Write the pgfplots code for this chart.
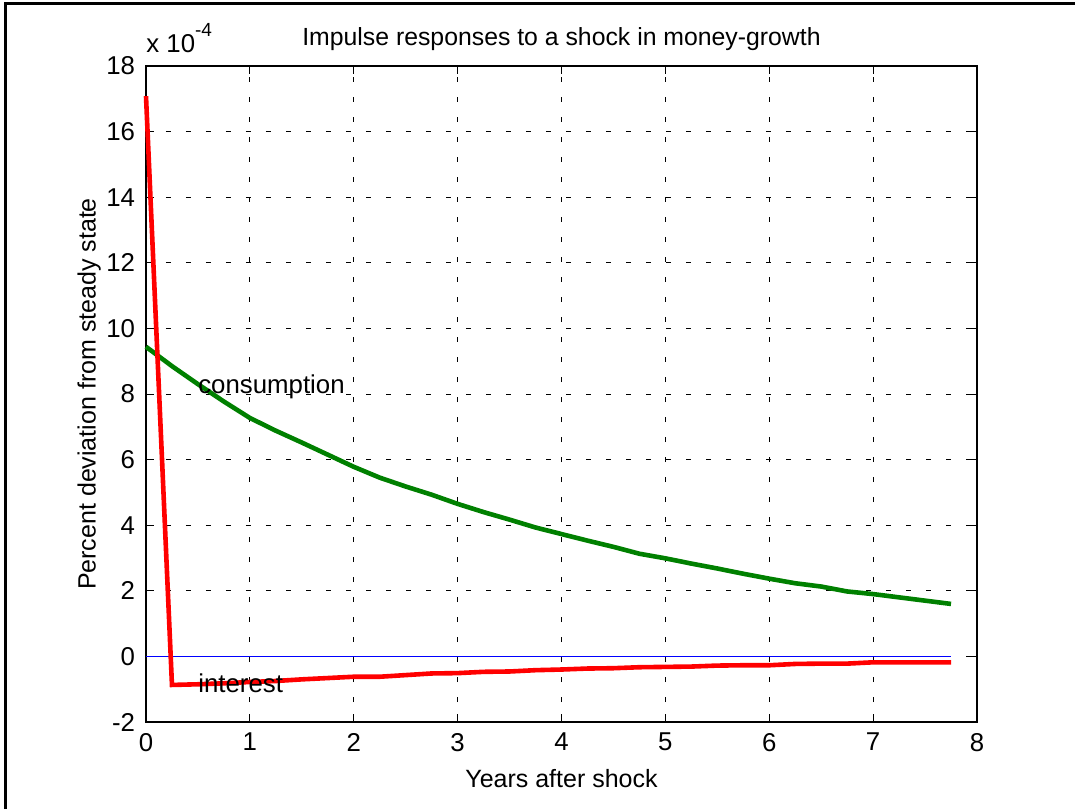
\documentclass[border=0pt]{standalone}
\usepackage{fontspec}
\setmainfont{Liberation Sans}
\usepackage{pgfplots}
\pgfplotsset{compat=1.18}
\definecolor{mgreen}{RGB}{0,128,0}

\begin{document}
\fontsize{12.9}{15}\selectfont
\begin{tikzpicture}
\begin{axis}[
    at={(0,0)}, anchor=south west,
    scale only axis,
    width=415.5pt, height=328pt,
    xmin=0, xmax=8, ymin=-2, ymax=18,
    xtick={0,1,...,8},
    ytick={-2,0,...,18},
    tick align=inside,
    major tick length=4pt,
    tick style={black, line width=0.5pt},
    axis line style={line width=0.6pt},
    grid=major,
    grid style={black, line width=0.4pt, dash pattern=on 2.5pt off 7.5pt},
    /pgf/number format/assume math mode=true,
    ticklabel style={font=\fontsize{12.9}{15}\selectfont},
    xticklabel style={yshift=-1pt},
    yticklabel style={xshift=-1pt},
    title={Impulse responses to a shock in money-growth},
    title style={font=\fontsize{12.4}{14}\selectfont, yshift=-3pt},
    xlabel={Years after shock},
    ylabel={Percent deviation from steady state},
    xlabel style={font=\fontsize{12.5}{15}\selectfont, yshift=-0.5pt},
    ylabel style={font=\fontsize{12.5}{15}\selectfont, yshift=-6pt},
    clip=false,
]
% zero line
\addplot[blue, line width=0.5pt] coordinates {(0,0) (7.75,0)};
% consumption (x 1e-4)
\addplot[mgreen, line width=2.3pt] coordinates {
(0,9.44) (0.25,8.85) (0.5,8.30) (0.75,7.77) (1,7.27) (1.25,6.88) (1.5,6.52) (1.75,6.15)
(2,5.78) (2.25,5.45) (2.5,5.18) (2.75,4.93) (3,4.65) (3.25,4.40) (3.5,4.17) (3.75,3.93)
(4,3.73) (4.25,3.53) (4.5,3.34) (4.75,3.13) (5,2.99) (5.25,2.83) (5.5,2.68) (5.75,2.52)
(6,2.37) (6.25,2.23) (6.5,2.13) (6.75,1.98) (7,1.90) (7.25,1.80) (7.5,1.70) (7.75,1.60)
};
% interest (x 1e-4)
\addplot[red, line width=2.3pt] coordinates {
(0,17.08) (0.25,-0.87) (0.5,-0.85) (0.75,-0.82) (1,-0.78) (1.25,-0.75) (1.5,-0.70) (1.75,-0.66)
(2,-0.62) (2.25,-0.62) (2.5,-0.57) (2.75,-0.52) (3,-0.51) (3.25,-0.47) (3.5,-0.46) (3.75,-0.42)
(4,-0.40) (4.25,-0.37) (4.5,-0.36) (4.75,-0.33) (5,-0.32) (5.25,-0.31) (5.5,-0.28) (5.75,-0.27)
(6,-0.27) (6.25,-0.23) (6.5,-0.22) (6.75,-0.22) (7,-0.18) (7.25,-0.18) (7.5,-0.18) (7.75,-0.18)
};
\node[anchor=base west, inner sep=0pt] at (axis cs:0.5,8.03) {consumption};
\node[anchor=base west, inner sep=0pt] at (axis cs:0.5,-1.11) {interest};
\node[anchor=base west, inner sep=0pt] at (rel axis cs:0,1) [yshift=6.5pt] {x 10\raisebox{0.65em}{\fontsize{9.5}{11}\selectfont -4}};
\end{axis}
% figure frame and page size
\path[use as bounding box] (-73pt,-43.5pt) rectangle (464.5pt,361pt);
\draw[line width=1.5pt] (-70pt,-43.5pt) -- (-70pt,359pt) -- (464.5pt,359pt);
\end{tikzpicture}
\end{document}
